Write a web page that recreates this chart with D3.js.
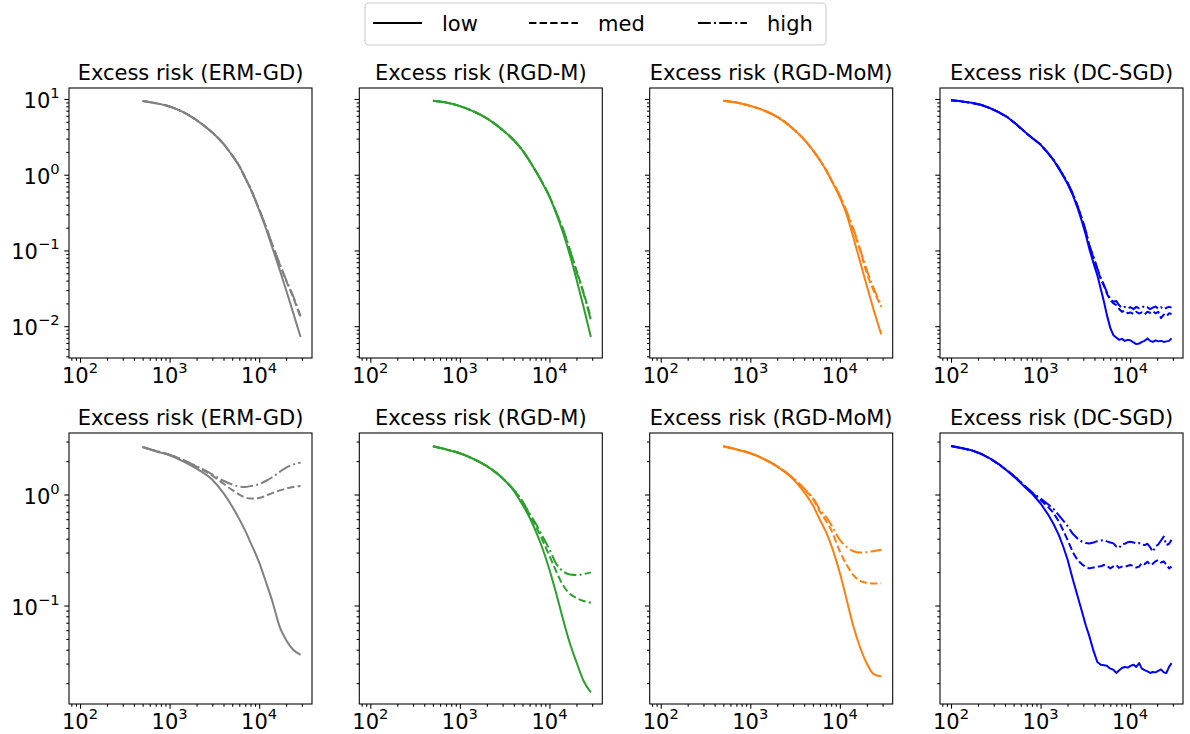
<!DOCTYPE html>
<html>
<head>
<meta charset="utf-8">
<script src="https://cdn.jsdelivr.net/npm/d3@7"></script>
<style>
  body { margin: 0; background: #fff; }
  svg { font-family: "DejaVu Sans", sans-serif; }
</style>
</head>
<body>
<svg id="chart"></svg>
<script>
var titles = ['Excess risk (ERM-GD)', 'Excess risk (RGD-M)', 'Excess risk (RGD-MoM)', 'Excess risk (DC-SGD)'];
var colors = ['#808080', '#2ca02c', '#ff7f0e', '#0000ff'];
var levels = ['low', 'med', 'high'];
var dashes = [null, '7.4,3.2', '12.8,3.2,2,3.2'];

var xMajor = [100, 1000, 10000];
var yMajorTop = [0.01, 0.1, 1, 10];
var yMajorBottom = [0.1, 1];

// iterations for the three GD methods
var gdX = [500, 700, 1000, 1400, 2000, 3000, 4000, 5000, 6000, 7000, 8000, 10000, 12000, 14000, 17000, 20000, 24000, 29000];

// top row
var topErmLow  = [9.4, 8.8, 7.95, 6.75, 5.25, 3.6, 2.55, 1.8, 1.3, 0.9, 0.65, 0.34, 0.19, 0.11, 0.055, 0.03, 0.015, 0.0072];
var topErmMed  = [9.4, 8.8, 7.95, 6.75, 5.25, 3.6, 2.55, 1.8, 1.3, 0.91, 0.66, 0.35, 0.2, 0.12, 0.065, 0.04, 0.024, 0.013];
var topErmHigh = [9.4, 8.8, 7.95, 6.75, 5.25, 3.6, 2.55, 1.8, 1.3, 0.91, 0.66, 0.35, 0.2, 0.12, 0.066, 0.041, 0.025, 0.0135];

var topRgdmLow  = [9.5, 9.0, 8.05, 6.9, 5.55, 3.9, 2.85, 2.1, 1.52, 1.12, 0.85, 0.51, 0.3, 0.18, 0.085, 0.042, 0.018, 0.0072];
var topRgdmMed  = [9.5, 9.0, 8.05, 6.9, 5.55, 3.9, 2.85, 2.1, 1.52, 1.13, 0.86, 0.52, 0.31, 0.195, 0.1, 0.055, 0.028, 0.013];
var topRgdmHigh = [9.5, 9.0, 8.05, 6.9, 5.55, 3.9, 2.85, 2.1, 1.52, 1.13, 0.86, 0.52, 0.31, 0.2, 0.1, 0.053, 0.027, 0.012];

var topMomLow  = [9.5, 9.0, 8.1, 7.1, 5.8, 4.05, 2.9, 2.1, 1.55, 1.15, 0.85, 0.5, 0.29, 0.155, 0.068, 0.034, 0.016, 0.0078];
var topMomMed  = [9.5, 9.0, 8.1, 7.1, 5.8, 4.05, 2.9, 2.1, 1.55, 1.15, 0.86, 0.52, 0.31, 0.19, 0.097, 0.05, 0.029, 0.018];
var topMomHigh = [9.5, 9.0, 8.1, 7.1, 5.8, 4.05, 2.9, 2.1, 1.55, 1.16, 0.87, 0.53, 0.32, 0.2, 0.1, 0.055, 0.031, 0.019];

// bottom row
var botErmLow  = [2.68, 2.45, 2.26, 2.0, 1.71, 1.36, 1.03, 0.78, 0.6, 0.47, 0.37, 0.245, 0.16, 0.11, 0.064, 0.049, 0.04, 0.036];
var botErmMed  = [2.68, 2.47, 2.28, 2.05, 1.78, 1.48, 1.25, 1.1, 1.0, 0.94, 0.92, 0.93, 0.98, 1.03, 1.09, 1.13, 1.17, 1.19];
var botErmHigh = [2.68, 2.47, 2.28, 2.06, 1.8, 1.52, 1.33, 1.23, 1.18, 1.17, 1.19, 1.24, 1.33, 1.43, 1.6, 1.75, 1.86, 1.94];

var botRgdmLow  = [2.72, 2.55, 2.35, 2.1, 1.8, 1.4, 1.08, 0.81, 0.62, 0.47, 0.36, 0.21, 0.125, 0.078, 0.045, 0.031, 0.021, 0.0165];
var botRgdmMed  = [2.72, 2.55, 2.35, 2.1, 1.8, 1.4, 1.1, 0.86, 0.66, 0.52, 0.42, 0.28, 0.2, 0.155, 0.127, 0.117, 0.11, 0.106];
var botRgdmHigh = [2.72, 2.55, 2.35, 2.1, 1.8, 1.4, 1.1, 0.87, 0.67, 0.55, 0.45, 0.32, 0.235, 0.205, 0.19, 0.188, 0.192, 0.199];

var botMomLow  = [2.72, 2.55, 2.35, 2.1, 1.78, 1.38, 1.05, 0.8, 0.59, 0.46, 0.35, 0.196, 0.11, 0.067, 0.041, 0.03, 0.024, 0.023];
var botMomMed  = [2.72, 2.55, 2.35, 2.1, 1.79, 1.4, 1.12, 0.91, 0.7, 0.58, 0.48, 0.307, 0.23, 0.19, 0.166, 0.16, 0.158, 0.159];
var botMomHigh = [2.72, 2.55, 2.35, 2.1, 1.8, 1.41, 1.13, 0.93, 0.73, 0.63, 0.535, 0.39, 0.335, 0.31, 0.3, 0.302, 0.31, 0.318];

// DC-SGD runs from 100 iterations and is noisy
var dcX = [100, 130, 170, 215, 270, 340, 430, 540, 680, 820, 1000, 1200, 1400, 1600, 1800, 2000, 2300, 2600, 2900, 3200,
  3500, 3900, 4300, 4700, 5100, 5500, 6000, 6500, 7000, 7500, 8100, 8700, 9400, 10100, 10900, 11700, 12600, 13500,
  14500, 15600, 16700, 17900, 19200, 20600, 22100, 23700, 25400, 27200, 29000];

var topDcLow = [9.6, 9.3, 8.9, 8.4, 7.6, 6.7, 5.7, 4.6, 3.6, 3.0, 2.5, 1.95, 1.55, 1.2, 0.95, 0.76, 0.53, 0.36, 0.24, 0.16,
  0.105, 0.068, 0.047, 0.031, 0.021, 0.014, 0.0095, 0.0076, 0.0071, 0.0066, 0.0068, 0.0064, 0.0066, 0.0065, 0.0061,
  0.0058, 0.0059, 0.0062, 0.0064, 0.0069, 0.0064, 0.0062, 0.0065, 0.0063, 0.0064, 0.0062, 0.0063, 0.0064, 0.0069];
var topDcMed = [9.6, 9.3, 8.9, 8.4, 7.6, 6.7, 5.7, 4.6, 3.6, 3.0, 2.5, 1.96, 1.56, 1.22, 0.97, 0.78, 0.55, 0.38, 0.26, 0.18,
  0.115, 0.08, 0.057, 0.042, 0.034, 0.027, 0.022, 0.02, 0.019, 0.017, 0.0155, 0.016, 0.0148, 0.0152, 0.0145,
  0.0155, 0.0147, 0.0152, 0.0143, 0.0155, 0.015, 0.0158, 0.0148, 0.0155, 0.0128, 0.0142, 0.0135, 0.0148, 0.0145];
var topDcHigh = [9.6, 9.3, 8.9, 8.4, 7.6, 6.7, 5.7, 4.6, 3.6, 3.0, 2.5, 1.96, 1.57, 1.23, 0.98, 0.79, 0.56, 0.38, 0.26, 0.18,
  0.118, 0.082, 0.058, 0.043, 0.035, 0.028, 0.023, 0.021, 0.0215, 0.019, 0.0175, 0.018, 0.0172, 0.0178, 0.0168,
  0.018, 0.0172, 0.0175, 0.0185, 0.0178, 0.0168, 0.0176, 0.0182, 0.017, 0.0178, 0.0168, 0.0175, 0.018, 0.0176];

var botDcLow = [2.74, 2.62, 2.5, 2.33, 2.12, 1.88, 1.62, 1.38, 1.15, 1.0, 0.83, 0.67, 0.54, 0.43, 0.335, 0.26, 0.17, 0.12, 0.088, 0.066,
  0.053, 0.039, 0.031, 0.0293, 0.029, 0.0287, 0.027, 0.0264, 0.0247, 0.026, 0.0274, 0.028, 0.0276, 0.0286, 0.0293,
  0.028, 0.0303, 0.027, 0.0262, 0.0255, 0.0247, 0.0252, 0.025, 0.0258, 0.0266, 0.025, 0.0247, 0.028, 0.0303];
var botDcMed = [2.74, 2.62, 2.5, 2.33, 2.12, 1.88, 1.63, 1.4, 1.17, 1.02, 0.89, 0.78, 0.68, 0.57, 0.47, 0.39, 0.3, 0.255, 0.235, 0.222,
  0.216, 0.22, 0.224, 0.226, 0.232, 0.228, 0.216, 0.225, 0.232, 0.218, 0.224, 0.222, 0.228, 0.232, 0.226,
  0.22, 0.224, 0.242, 0.236, 0.248, 0.232, 0.238, 0.25, 0.257, 0.244, 0.25, 0.232, 0.216, 0.224];
var botDcHigh = [2.74, 2.62, 2.5, 2.33, 2.12, 1.88, 1.63, 1.4, 1.18, 1.03, 0.92, 0.82, 0.74, 0.65, 0.58, 0.52, 0.44, 0.4, 0.376, 0.365,
  0.362, 0.37, 0.38, 0.385, 0.389, 0.378, 0.37, 0.363, 0.34, 0.33, 0.355, 0.36, 0.372, 0.376, 0.37,
  0.36, 0.365, 0.354, 0.35, 0.36, 0.335, 0.305, 0.34, 0.355, 0.385, 0.417, 0.35, 0.36, 0.39];

var panels = [
  { row: 0, col: 0, x: gdX, runs: [topErmLow, topErmMed, topErmHigh] },
  { row: 0, col: 1, x: gdX, runs: [topRgdmLow, topRgdmMed, topRgdmHigh] },
  { row: 0, col: 2, x: gdX, runs: [topMomLow, topMomMed, topMomHigh] },
  { row: 0, col: 3, x: dcX, runs: [topDcLow, topDcMed, topDcHigh] },
  { row: 1, col: 0, x: gdX, runs: [botErmLow, botErmMed, botErmHigh] },
  { row: 1, col: 1, x: gdX, runs: [botRgdmLow, botRgdmMed, botRgdmHigh] },
  { row: 1, col: 2, x: gdX, runs: [botMomLow, botMomMed, botMomHigh] },
  { row: 1, col: 3, x: dcX, runs: [botDcLow, botDcMed, botDcHigh] }
];

var w = 1190, h = 734;
var svg = d3.select('#chart').attr('width', w).attr('height', h);

var panelLeft = [69, 359.3, 649.7, 940], panelW = 243;
var rowTop = [88, 433], rowH = [270, 271];
var xDomain = [Math.pow(10, 1.877), Math.pow(10, 4.59)];
var yDomains = [[Math.pow(10, -2.42), Math.pow(10, 1.145)], [Math.pow(10, -1.887), Math.pow(10, 0.554)]];
var yMajors = [yMajorTop, yMajorBottom];

var minorTicks = function(domain) {
  var out = [];
  var lo = Math.floor(Math.log10(domain[0])), hi = Math.ceil(Math.log10(domain[1]));
  for (var e = lo; e <= hi; e++) {
    for (var k = 2; k <= 9; k++) {
      var v = k * Math.pow(10, e);
      if (v >= domain[0] && v <= domain[1]) out.push(v);
    }
  }
  return out;
};

var powLabel = function(sel, v) {
  var e = Math.round(Math.log10(v));
  sel.text('10');
  sel.append('tspan').attr('dy', -10).style('font-size', '14.7px')
    .text(e < 0 ? '\u2212' + (-e) : String(e));
};

panels.forEach(function(p) {
  var left = panelLeft[p.col], top = rowTop[p.row], ph = rowH[p.row];
  var g = svg.append('g').attr('transform', 'translate(' + left + ',' + top + ')');

  var x = d3.scaleLog().domain(xDomain).range([0, panelW]);
  var y = d3.scaleLog().domain(yDomains[p.row]).range([ph, 0]);

  // ticks
  var xa = g.append('g').attr('transform', 'translate(0,' + ph + ')');
  xa.call(d3.axisBottom(x).tickValues(xMajor).tickSize(4.7).tickSizeOuter(0).tickFormat(''));
  xa.append('g').call(d3.axisBottom(x).tickValues(minorTicks(xDomain)).tickSize(2.7).tickSizeOuter(0).tickFormat(''));
  var ya = g.append('g');
  ya.call(d3.axisLeft(y).tickValues(yMajors[p.row]).tickSize(4.7).tickSizeOuter(0).tickFormat(''));
  ya.append('g').call(d3.axisLeft(y).tickValues(minorTicks(yDomains[p.row])).tickSize(2.7).tickSizeOuter(0).tickFormat(''));
  g.selectAll('.domain').remove();
  g.selectAll('.tick line').attr('stroke', '#000').attr('stroke-width', 1.07);

  // tick labels
  xMajor.forEach(function(v) {
    g.append('text').attr('x', x(v)).attr('y', ph + 25).attr('text-anchor', 'middle')
      .style('font-size', '21px').attr('fill', '#000').call(powLabel, v);
  });
  if (p.col === 0) {
    yMajors[p.row].forEach(function(v) {
      g.append('text').attr('x', -9.4).attr('y', y(v) + 9).attr('text-anchor', 'end')
        .style('font-size', '21px').attr('fill', '#000').call(powLabel, v);
    });
  }

  // curves
  var line = d3.line()
    .x(function(d) { return x(d[0]); })
    .y(function(d) { return y(d[1]); })
    .curve(p.col === 3 ? d3.curveLinear : d3.curveMonotoneX);

  p.runs.forEach(function(vals, i) {
    var pts = p.x.map(function(xv, j) { return [xv, vals[j]]; });
    g.append('path').datum(pts)
      .attr('d', line)
      .attr('fill', 'none')
      .attr('stroke', colors[p.col])
      .attr('stroke-width', 2)
      .attr('stroke-dasharray', dashes[i])
      .attr('stroke-linejoin', 'round');
  });

  // frame
  g.append('rect').attr('width', panelW).attr('height', ph)
    .attr('fill', 'none').attr('stroke', '#000').attr('stroke-width', 1.07);

  g.append('text').attr('x', panelW / 2).attr('y', -8).attr('text-anchor', 'middle')
    .style('font-size', '21px').attr('fill', '#000').text(titles[p.col]);
});

// legend
var leg = svg.append('g');
leg.append('rect').attr('x', 365).attr('y', 3).attr('width', 461).attr('height', 42).attr('rx', 4)
  .attr('fill', '#fff').attr('stroke', '#cccccc').attr('stroke-width', 1.07);
var legX = [373, 529, 698];
levels.forEach(function(name, i) {
  leg.append('line').attr('x1', legX[i]).attr('x2', legX[i] + 49).attr('y1', 23).attr('y2', 23)
    .attr('stroke', '#000').attr('stroke-width', 2).attr('stroke-dasharray', dashes[i]);
  leg.append('text').attr('x', legX[i] + 69).attr('y', 31).style('font-size', '21px').attr('fill', '#000').text(name);
});
</script>
</body>
</html>
